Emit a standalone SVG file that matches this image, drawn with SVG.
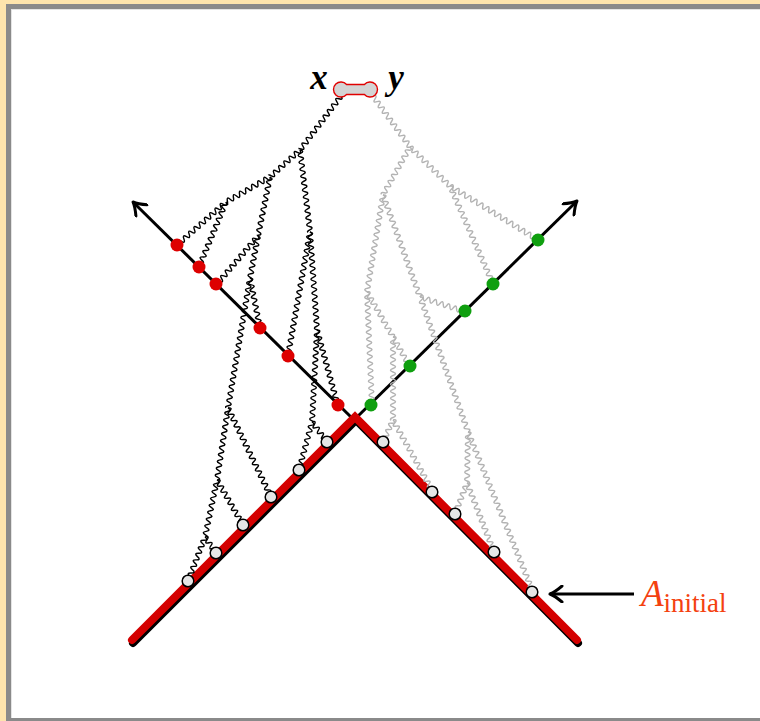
<svg xmlns="http://www.w3.org/2000/svg" width="760" height="721" viewBox="0 0 760 721">
<style>
.k{stroke:#000}
.g{stroke:#b3b3b3}
.rd{fill:#dd0000}
.gr{fill:#0f9f0f}
.wh{fill:#e6e6e6;stroke:#000;stroke-width:1.5}
.lbl{font-family:"Liberation Serif","Times New Roman",serif;font-style:italic;font-weight:bold;font-size:35px}
</style>
<defs>
<path id="w" fill="none" stroke-width="1.45" pathLength="241.5" d="M0,0 q1.75,-5 3.5,0 t3.5,0 t3.5,0 t3.5,0 t3.5,0 t3.5,0 t3.5,0 t3.5,0 t3.5,0 t3.5,0 t3.5,0 t3.5,0 t3.5,0 t3.5,0 t3.5,0 t3.5,0 t3.5,0 t3.5,0 t3.5,0 t3.5,0 t3.5,0 t3.5,0 t3.5,0 t3.5,0 t3.5,0 t3.5,0 t3.5,0 t3.5,0 t3.5,0 t3.5,0 t3.5,0 t3.5,0 t3.5,0 t3.5,0 t3.5,0 t3.5,0 t3.5,0 t3.5,0 t3.5,0 t3.5,0 t3.5,0 t3.5,0 t3.5,0 t3.5,0 t3.5,0 t3.5,0 t3.5,0 t3.5,0 t3.5,0 t3.5,0 t3.5,0 t3.5,0 t3.5,0 t3.5,0 t3.5,0 t3.5,0 t3.5,0 t3.5,0 t3.5,0 t3.5,0 t3.5,0 t3.5,0 t3.5,0 t3.5,0 t3.5,0 t3.5,0 t3.5,0 t3.5,0 t3.5,0"/>
<marker id="ah" viewBox="-14 -9 16 18" markerWidth="16" markerHeight="18" refX="0" refY="0" orient="auto" markerUnits="userSpaceOnUse">
<path d="M-12,-8 Q-5,-2 0,0 Q-5,2 -12,8" fill="none" stroke="#000" stroke-width="3" stroke-linecap="round" stroke-linejoin="round"/>
</marker>
</defs>
<rect x="0" y="0" width="760" height="721" fill="#fde4ad"/>
<rect x="6" y="4" width="760" height="720" fill="#8a8a8a"/>
<rect x="11" y="9" width="760" height="709" fill="#e4e4e4"/>
<rect x="12" y="10" width="760" height="708" fill="#ffffff"/>

<g id="axes">
<line x1="354" y1="420" x2="133" y2="202" stroke="#000" stroke-width="3" marker-end="url(#ah)"/>
<line x1="354" y1="420" x2="577" y2="201" stroke="#000" stroke-width="3" marker-end="url(#ah)"/>
</g>
<g id="A-initial-line">
<polyline points="133,643 356,420 578,643" fill="none" stroke="#000" stroke-width="8" stroke-linejoin="miter" stroke-linecap="round"/>
<polyline points="132,640 355,417 577,640" fill="none" stroke="#d40000" stroke-width="8" stroke-linejoin="miter" stroke-linecap="round"/>
</g>

<g id="connectors">
<use href="#w" class="k" transform="translate(341,96) rotate(127.2)" stroke-dasharray="67.8 1000"/>
<use href="#w" class="k" transform="translate(300,150) rotate(138.0)" stroke-dasharray="40.4 1000"/>
<use href="#w" class="k" transform="translate(270,177) rotate(150.4)" stroke-dasharray="50.6 1000"/>
<use href="#w" class="k" transform="translate(226,202) rotate(138.7)" stroke-dasharray="65.2 1000"/>
<use href="#w" class="k" transform="translate(226,202) rotate(112.6)" stroke-dasharray="70.4 1000"/>
<use href="#w" class="k" transform="translate(270,177) rotate(101.5)" stroke-dasharray="60.2 1000"/>
<use href="#w" class="k" transform="translate(258,236) rotate(130.5)" stroke-dasharray="63.1 1000"/>
<use href="#w" class="k" transform="translate(258,236) rotate(100.8)" stroke-dasharray="42.8 1000"/>
<use href="#w" class="k" transform="translate(250,278) rotate(78.7)" stroke-dasharray="51 1000"/>
<use href="#w" class="k" transform="translate(250,278) rotate(99.6)" stroke-dasharray="131.8 1000"/>
<use href="#w" class="k" transform="translate(228,408) rotate(98.7)" stroke-dasharray="72.8 1000"/>
<use href="#w" class="k" transform="translate(228,408) rotate(64.2)" stroke-dasharray="98.8 1000"/>
<use href="#w" class="k" transform="translate(217,480) rotate(101.9)" stroke-dasharray="58.2 1000"/>
<use href="#w" class="k" transform="translate(217,480) rotate(60.0)" stroke-dasharray="52 1000"/>
<use href="#w" class="k" transform="translate(205,537) rotate(111.1)" stroke-dasharray="47.2 1000"/>
<use href="#w" class="k" transform="translate(205,537) rotate(55.5)" stroke-dasharray="19.4 1000"/>
<use href="#w" class="k" transform="translate(300,150) rotate(83.0)" stroke-dasharray="82.6 1000"/>
<use href="#w" class="k" transform="translate(310,232) rotate(100.1)" stroke-dasharray="125.9 1000"/>
<use href="#w" class="k" transform="translate(310,232) rotate(85.9)" stroke-dasharray="98.2 1000"/>
<use href="#w" class="k" transform="translate(317,330) rotate(74.6)" stroke-dasharray="78.8 1000"/>
<use href="#w" class="k" transform="translate(317,330) rotate(93.1)" stroke-dasharray="92.1 1000"/>
<use href="#w" class="k" transform="translate(312,422) rotate(105.2)" stroke-dasharray="49.7 1000"/>
<use href="#w" class="k" transform="translate(312,422) rotate(53.1)" stroke-dasharray="25 1000"/>

<use href="#w" class="g" transform="translate(373,96) rotate(54.0)" stroke-dasharray="63 1000"/>
<use href="#w" class="g" transform="translate(410,147) rotate(44.3)" stroke-dasharray="55.9 1000"/>
<use href="#w" class="g" transform="translate(450,186) rotate(31.5)" stroke-dasharray="103.2 1000"/>
<use href="#w" class="g" transform="translate(450,186) rotate(66.3)" stroke-dasharray="107 1000"/>
<use href="#w" class="g" transform="translate(410,147) rotate(119.4)" stroke-dasharray="55.1 1000"/>
<use href="#w" class="g" transform="translate(383,195) rotate(99.4)" stroke-dasharray="98.3 1000"/>
<use href="#w" class="g" transform="translate(383,195) rotate(70.1)" stroke-dasharray="108.5 1000"/>
<use href="#w" class="g" transform="translate(420,297) rotate(18.1)" stroke-dasharray="48.4 1000"/>
<use href="#w" class="g" transform="translate(420,297) rotate(70.4)" stroke-dasharray="143.3 1000"/>
<use href="#w" class="g" transform="translate(468,432) rotate(67.9)" stroke-dasharray="172.7 1000"/>
<use href="#w" class="g" transform="translate(468,432) rotate(91.1)" stroke-dasharray="51 1000"/>
<use href="#w" class="g" transform="translate(467,483) rotate(111.2)" stroke-dasharray="33.2 1000"/>
<use href="#w" class="g" transform="translate(467,483) rotate(68.6)" stroke-dasharray="74.1 1000"/>
<use href="#w" class="g" transform="translate(367,292) rotate(87.5)" stroke-dasharray="114.1 1000"/>
<use href="#w" class="g" transform="translate(367,292) rotate(60.0)" stroke-dasharray="52 1000"/>
<use href="#w" class="g" transform="translate(393,337) rotate(60.5)" stroke-dasharray="34.5 1000"/>
<use href="#w" class="g" transform="translate(393,337) rotate(90)" stroke-dasharray="83 1000"/>
<use href="#w" class="g" transform="translate(393,420) rotate(114.4)" stroke-dasharray="24.2 1000"/>
<use href="#w" class="g" transform="translate(393,420) rotate(60.9)" stroke-dasharray="82.4 1000"/>
<line x1="634" y1="594" x2="550" y2="594" stroke="#000" stroke-width="3" marker-end="url(#ah)"/>
</g>

<g id="pair">
<path d="M346.6,84.5 H364.4 A7.5,7.5 0 1 1 364.4,94.5 H346.6 A7.5,7.5 0 1 1 346.6,84.5 Z" fill="#d4d4d4" stroke="#e00000" stroke-width="1.4"/>
</g>
<g id="label-x"><text class="lbl" x="319" y="89" text-anchor="middle">x</text></g>
<g id="label-y"><text class="lbl" x="396" y="89" text-anchor="middle">y</text></g>

<g id="r1"><circle class="rd" cx="177" cy="245" r="6.5"/></g>
<g id="r2"><circle class="rd" cx="199" cy="267" r="6.5"/></g>
<g id="r3"><circle class="rd" cx="216" cy="284" r="6.5"/></g>
<g id="r4"><circle class="rd" cx="260" cy="328" r="6.5"/></g>
<g id="r5"><circle class="rd" cx="288" cy="356" r="6.5"/></g>
<g id="r6"><circle class="rd" cx="338" cy="405" r="6.5"/></g>

<g id="g1"><circle class="gr" cx="371" cy="405" r="6.5"/></g>
<g id="g2"><circle class="gr" cx="410" cy="366" r="6.5"/></g>
<g id="g3"><circle class="gr" cx="465" cy="311" r="6.5"/></g>
<g id="g4"><circle class="gr" cx="493" cy="284" r="6.5"/></g>
<g id="g5"><circle class="gr" cx="538" cy="240" r="6.5"/></g>

<g id="wl1"><circle class="wh" cx="188" cy="581" r="5.8"/></g>
<g id="wl2"><circle class="wh" cx="216" cy="553" r="5.8"/></g>
<g id="wl3"><circle class="wh" cx="243" cy="525" r="5.8"/></g>
<g id="wl4"><circle class="wh" cx="271" cy="497" r="5.8"/></g>
<g id="wl5"><circle class="wh" cx="299" cy="470" r="5.8"/></g>
<g id="wl6"><circle class="wh" cx="327" cy="442" r="5.8"/></g>

<g id="wr1"><circle class="wh" cx="383" cy="442" r="5.8"/></g>
<g id="wr2"><circle class="wh" cx="432" cy="492" r="5.8"/></g>
<g id="wr3"><circle class="wh" cx="455" cy="514" r="5.8"/></g>
<g id="wr4"><circle class="wh" cx="494" cy="552" r="5.8"/></g>
<g id="wr5"><circle class="wh" cx="532" cy="592" r="5.8"/></g>

<g id="label-A">
<text x="641" y="606" font-family="'Liberation Serif','Times New Roman',serif" fill="#f4410f"><tspan font-style="italic" font-size="37">A</tspan><tspan font-size="27" dy="6">initial</tspan></text>
</g>
</svg>
